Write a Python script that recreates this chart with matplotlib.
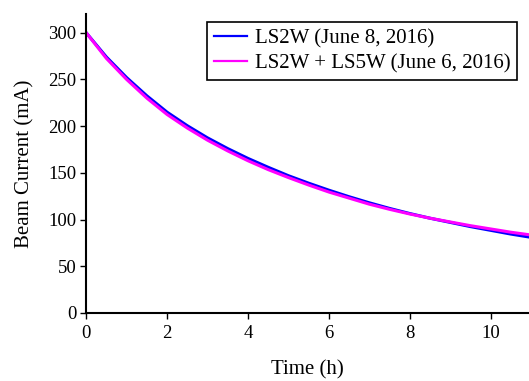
import matplotlib
matplotlib.use('Agg')
import matplotlib.pyplot as plt

# - Dados (tempo em horas, corrente em mA)
tempo = [0, 0.5, 1, 1.5, 2, 2.5, 3, 3.5, 4, 4.5, 5, 5.5, 6, 6.5, 7, 7.5,
         8, 8.5, 9, 9.5, 10, 10.5, 11]
corrente_ls2w = [300, 274, 252, 232.5, 215, 200.5, 187.5, 176, 165.5, 156, 147, 139,
                 131.5, 124.5, 118, 112, 106.5, 101.5, 97, 92.5, 88.5, 84.5, 81]
corrente_ls2w_ls5w = [300, 272.5, 250, 230, 212.5, 198, 185, 173.5, 163, 153.5, 145, 137,
                      129.5, 123, 116.5, 111, 106, 101.5, 97.5, 93.5, 90, 86.5, 83.5]

rotulo_ls2w = 'LS2W (June 8, 2016)'
rotulo_ls2w_ls5w = 'LS2W + LS5W (June 6, 2016)'

plt.rcParams['font.family'] = ['Liberation Serif', 'DejaVu Serif']
plt.rcParams['font.size'] = 13.5

fig = plt.figure(figsize=(5.29, 3.81), dpi=100)
ax = fig.add_axes([0.163, 0.1785, 0.837, 0.7845])

ax.plot(tempo, corrente_ls2w, color='#0000ff', lw=2.2, label=rotulo_ls2w)
ax.plot(tempo, corrente_ls2w_ls5w, color='#ff00ff', lw=2.2, label=rotulo_ls2w_ls5w)

ax.set_xlim(0, 10.95)
ax.set_ylim(0, 320)
ax.set_xticks([0, 2, 4, 6, 8, 10])
ax.set_yticks([0, 50, 100, 150, 200, 250, 300])

ax.spines['top'].set_visible(False)
ax.spines['right'].set_visible(False)
ax.spines['left'].set_linewidth(1.5)
ax.spines['bottom'].set_linewidth(1.5)
ax.tick_params(direction='out', length=4, width=1)
ax.tick_params(axis='x', pad=5)
ax.tick_params(axis='y', pad=3)

ax.set_xlabel('Time (h)', fontsize=15, labelpad=13)
ax.set_ylabel('Beam Current (mA)', fontsize=15, labelpad=10)

leg = ax.legend(loc='upper right', bbox_to_anchor=(0.973, 0.973), frameon=True,
                fancybox=False, edgecolor='black', framealpha=1, fontsize=15,
                handlelength=1.6, handletextpad=0.4, labelspacing=0.28,
                borderpad=0.3, borderaxespad=0)
leg.get_frame().set_linewidth(1.2)
for linha in leg.get_lines():
    linha.set_linewidth(1.6)

fig.savefig('out.png', dpi=100)
